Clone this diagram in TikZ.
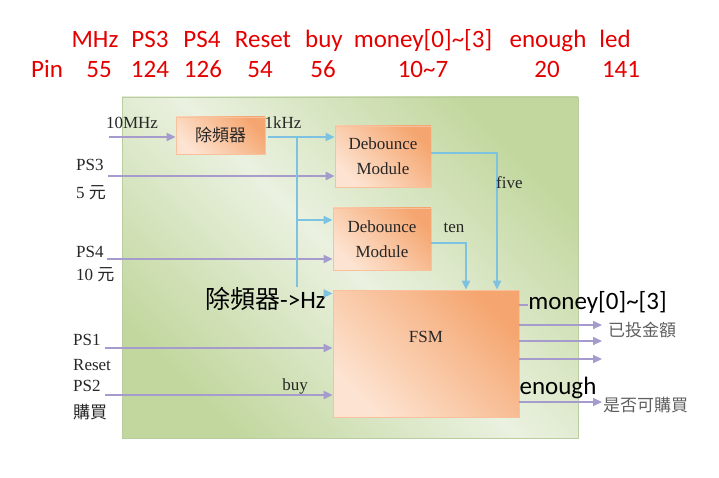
\documentclass[tikz,border=0pt]{standalone}
\usepackage{fontspec}
\setmainfont{Liberation Serif}
\newfontfamily\calibri{Carlito}
\newfontfamily\cjk{Noto Sans CJK TC}
\usetikzlibrary{arrows.meta, positioning, calc}
\colorlet{pinred}{red!90!black}
\definecolor{wirepurple}{RGB}{165,155,205}
\definecolor{wireblue}{RGB}{125,195,225}
\definecolor{bggreen}{RGB}{194,215,158}
\definecolor{bglight}{RGB}{234,241,224}
\definecolor{bgedge}{RGB}{185,205,160}
\definecolor{boxdark}{RGB}{245,166,112}
\definecolor{boxlight}{RGB}{253,228,210}
\definecolor{labelgray}{RGB}{95,95,95}

\tikzset{
  blockbox/.style={draw=boxdark!70!white, line width=0.8pt, left color=boxlight, right color=boxdark, shading angle=135,
    text=black!85, align=center, font=\fontsize{17}{25}\selectfont},
  sig/.style={text=black!85, inner sep=1pt, font=\fontsize{17}{20}\selectfont},
  outlabel/.style={text=labelgray, inner sep=1pt, anchor=west, font=\cjk\fontsize{17}{20}\selectfont},
  pinlabel/.style={text=pinred, anchor=base, font=\calibri\fontsize{25}{28}\selectfont},
  note/.style={text=black, anchor=base, inner sep=0pt, font=\calibri\fontsize{25}{30}\selectfont},
  inwire/.style={wirepurple, line width=2pt, -{Triangle[length=9pt,width=8pt]}},
  clkwire/.style={wireblue, line width=2pt, -{Triangle[length=9pt,width=8pt]}}
}

\begin{document}
\begin{tikzpicture}[x=1pt, y=-1pt]
  \useasboundingbox (0,0) rectangle (719,478);

  % pin table
  \node[pinlabel] (hMHz) at (95,48) {MHz};
  \node[pinlabel] (hPS3) at (150,48) {PS3};
  \node[pinlabel] (hPS4) at (202,48) {PS4};
  \node[pinlabel] (hReset) at (263,48) {Reset};
  \node[pinlabel] (hbuy) at (324,48) {buy};
  \node[pinlabel] (hmoney) at (423,48) {money[0]\textasciitilde[3]};
  \node[pinlabel] (henough) at (548,48) {enough};
  \node[pinlabel] (hled) at (615,48) {led};
  \node[pinlabel] (pPin) at (47,78) {Pin};
  \node[pinlabel] (pMHz) at (99,78) {55};
  \node[pinlabel] (pPS3) at (150,78) {124};
  \node[pinlabel] (pPS4) at (203,78) {126};
  \node[pinlabel] (pReset) at (260,78) {54};
  \node[pinlabel] (pbuy) at (323,78) {56};
  \node[pinlabel] (pmoney) at (423,78) {10\textasciitilde7};
  \node[pinlabel] (penough) at (547,78) {20};
  \node[pinlabel] (pled) at (621,78) {141};

  % board
  \shade[draw=bgedge, left color=bggreen, right color=bggreen, middle color=bglight, shading angle=135]
    (122,97) rectangle (578,438);

  % blocks
  \node[blockbox, minimum width=89pt, minimum height=37pt] (div) at (220.5,135.5) {\cjk 除頻器};
  \node[blockbox, minimum width=96pt, minimum height=61pt] (deb1) at (383,156.5) {Debounce\\Module};
  \node[blockbox, minimum width=98pt, minimum height=62pt] (deb2) at (382,239) {Debounce\\Module};
  \node[blockbox, minimum width=186pt, minimum height=127pt, label={[below=40pt, sig]north:FSM}] (fsm) at (426,353.5) {};

  % inputs
  \node[sig] (lMHz) at (132,123) {10MHz};
  \node[sig, anchor=west] (lPS3) at (75,165) {PS3};
  \node[sig, anchor=west] (l5) at (75,193) {5 {\cjk 元}};
  \node[sig, anchor=west] (lPS4) at (75,252) {PS4};
  \node[sig, anchor=west] (l10) at (75,275) {10 {\cjk 元}};
  \node[sig, anchor=west] (lPS1) at (72,340) {PS1};
  \node[sig, anchor=west] (lReset) at (72,365) {Reset};
  \node[sig, anchor=west] (lPS2) at (72,386) {PS2};
  \node[sig, anchor=west] (lbuy) at (72,412) {\cjk 購買};
  \node[sig] (buy) at (295,386) {buy};

  \coordinate (mhz) at (109,137);
  \coordinate (ps3) at (108,176);
  \coordinate (ps4) at (107,259);
  \coordinate (ps1) at (105,348);
  \coordinate (ps2) at (105,395);
  \draw[inwire] (mhz) -- (mhz -| div.west);
  \draw[inwire] (ps3) -- (ps3 -| deb1.west);
  \draw[inwire] (ps4) -- (ps4 -| deb2.west);
  \draw[inwire] (ps1) -- (ps1 -| fsm.west);
  \draw[inwire] (ps2) -- (ps2 -| fsm.west);

  % clock
  \node[sig] (lkHz) at (283,123) {1kHz};
  \node[note] (hz) at (265.5,308) {{\cjk 除頻器}->Hz};
  \coordinate (tap) at (297,137);
  \coordinate (tap2) at (297,220);
  \draw[clkwire] ([xshift=3pt]div.east |- mhz) -- (mhz -| deb1.west);
  \draw[clkwire, -] (tap) -- (tap |- hz.north);
  \draw[clkwire] (tap2) -- (tap2 -| deb2.west);
  \draw[clkwire] ([yshift=5pt]hz.east) -- ([yshift=5pt]hz.east -| fsm.west);

  % debounced keys
  \draw[clkwire] ([yshift=3.5pt]deb1.east) -| ([xshift=71pt]fsm.north);
  \draw[clkwire] ([yshift=-4pt]deb2.east) -| ([xshift=40pt]fsm.north);
  \node[sig, anchor=west] (five) at (495,183) {five};
  \node[sig] (ten) at (454,228) {ten};

  % outputs
  \node[note] (money) at (597.5,309) {money[0]\textasciitilde[3]};
  \draw[wirepurple, line width=2pt] (fsm.east |- 0,305) -- (money.west |- 0,305);
  \foreach \y [count=\i] in {325,341,359,402} {
    \coordinate (out\i) at (602,\y);
    \draw[inwire] (fsm.east |- out\i) -- (out\i);
  }
  \node[outlabel] (lmoney) at (607,330) {已投金額};
  \node[outlabel] (lenough) at (602,405) {是否可購買};
  \node[note] (enough) at (558,394) {enough};
\end{tikzpicture}
\end{document}
